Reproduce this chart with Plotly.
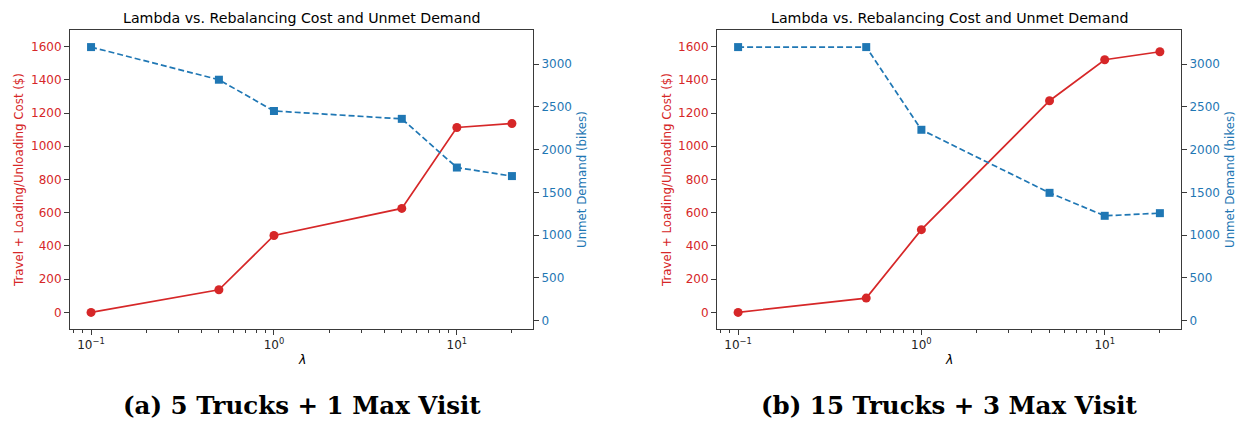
import plotly.graph_objects as go

# ---- data ----
lam = [0.1, 0.5, 1, 5, 10, 20]
cost_a = [0, 136, 463, 626, 1113, 1137]
unmet_a = [3200, 2818, 2452, 2360, 1790, 1690]
cost_b = [0, 86, 498, 1274, 1521, 1569]
unmet_b = [3200, 3200, 2232, 1494, 1225, 1256]

x_tickvals = [0.1, 1, 10]
x_ticktext = ["10<sup>−1</sup>", "10<sup>0</sup>", "10<sup>1</sup>"]
x_minor = [0.08, 0.09, 0.2, 0.3, 0.4, 0.5, 0.6, 0.7, 0.8, 0.9,
           2, 3, 4, 5, 6, 7, 8, 9, 20]
left_ticks = [0, 200, 400, 600, 800, 1000, 1200, 1400, 1600]
right_ticks = [0, 500, 1000, 1500, 2000, 2500, 3000]

title = "Lambda vs. Rebalancing Cost and Unmet Demand"
left_label = "Travel + Loading/Unloading Cost ($)"
right_label = "Unmet Demand (bikes)"
captions = ["(a) 5 Trucks + 1 Max Visit", "(b) 15 Trucks + 3 Max Visit"]

RED = "#d62728"
BLUE = "#1f77b4"
SPINE = "#3a3a3a"
W, H = 1238, 421
FONT = "DejaVu Sans"
TICK = 12

fig = go.Figure()

panels = [
    dict(cost=cost_a, unmet=unmet_a, xa="x", ya="y", ya2="y2", x0=70, x1=533),
    dict(cost=cost_b, unmet=unmet_b, xa="x2", ya="y3", ya2="y4", x0=717, x1=1181),
]

for p in panels:
    fig.add_trace(go.Scatter(
        x=lam, y=p["unmet"], xaxis=p["xa"], yaxis=p["ya2"], mode="lines+markers",
        line=dict(color=BLUE, width=1.7, dash="6px,3px"),
        marker=dict(symbol="square", size=8, color=BLUE), showlegend=False))
    fig.add_trace(go.Scatter(
        x=lam, y=p["cost"], xaxis=p["xa"], yaxis=p["ya"], mode="lines+markers",
        line=dict(color=RED, width=1.7),
        marker=dict(symbol="circle", size=9, color=RED), showlegend=False))

y_dom = [1 - 329 / H, 1 - 30 / H]

def xaxis_cfg(x0, x1, anchor):
    return dict(
        domain=[x0 / W, x1 / W], anchor=anchor, type="log",
        range=[-1.1151, 1.4162],
        tickmode="array", tickvals=x_tickvals, ticktext=x_ticktext,
        ticks="outside", ticklen=5, tickwidth=1, tickcolor=SPINE,
        tickfont=dict(family=FONT, size=TICK, color="#222"),
        minor=dict(ticks="outside", ticklen=3, tickwidth=0.8, tickcolor=SPINE,
                   tickmode="array", tickvals=x_minor, showgrid=False),
        showline=True, linecolor=SPINE, linewidth=1, mirror=True,
        showgrid=False, zeroline=False)

def yaxis_left(anchor):
    return dict(
        domain=y_dom, anchor=anchor, range=[-100, 1700],
        tickmode="array", tickvals=left_ticks,
        ticks="outside", ticklen=5, tickwidth=1, tickcolor=SPINE,
        tickfont=dict(family=FONT, size=TICK, color=RED),
        showline=True, linecolor=SPINE, linewidth=1, mirror=False,
        showgrid=False, zeroline=False)

def yaxis_right(anchor, over):
    return dict(
        anchor=anchor, overlaying=over, side="right", range=[-100, 3400],
        tickmode="array", tickvals=right_ticks,
        ticks="outside", ticklen=5, tickwidth=1, tickcolor=SPINE,
        tickfont=dict(family=FONT, size=TICK, color=BLUE),
        showline=True, linecolor=SPINE, linewidth=1,
        showgrid=False, zeroline=False)

fig.update_layout(
    width=W, height=H,
    margin=dict(l=0, r=0, t=0, b=0),
    paper_bgcolor="white", plot_bgcolor="white",
    xaxis=xaxis_cfg(70, 533, "y"),
    xaxis2=xaxis_cfg(717, 1181, "y3"),
    yaxis=yaxis_left("x"),
    yaxis2=yaxis_right("x", "y"),
    yaxis3=yaxis_left("x2"),
    yaxis4=yaxis_right("x2", "y3"),
)

annotations = []
for p, cap, ylx, yrx in zip(panels, captions, [19, 667], [582, 1230]):
    cx = (p["x0"] + p["x1"]) / 2
    annotations.append(dict(x=cx / W, y=1 - 18 / H, xref="paper", yref="paper",
                            text=title, showarrow=False, xanchor="center", yanchor="middle",
                            font=dict(family=FONT, size=14.2, color="black")))
    annotations.append(dict(x=cx / W, y=1 - 359 / H, xref="paper", yref="paper",
                            text="<i>λ</i>", showarrow=False, xanchor="center", yanchor="middle",
                            font=dict(family=FONT, size=12.5, color="black")))
    annotations.append(dict(x=ylx / W, y=1 - 180 / H, xref="paper", yref="paper",
                            text=left_label, textangle=-90, showarrow=False,
                            xanchor="center", yanchor="middle",
                            font=dict(family=FONT, size=11.8, color=RED)))
    annotations.append(dict(x=yrx / W, y=1 - 180 / H, xref="paper", yref="paper",
                            text=right_label, textangle=-90, showarrow=False,
                            xanchor="center", yanchor="middle",
                            font=dict(family=FONT, size=11.8, color=BLUE)))
    annotations.append(dict(x=(cx) / W, y=1 - 405 / H, xref="paper", yref="paper",
                            text="<b>" + cap + "</b>", showarrow=False,
                            xanchor="center", yanchor="middle",
                            font=dict(family="DejaVu Serif", size=24.5, color="black")))
fig.update_layout(annotations=annotations)

fig.write_html("out.html",
               config={"displayModeBar": False},
               post_script="document.body.style.margin='0px';"
                           "document.body.style.padding='0px';"
                           "document.body.style.overflow='hidden';")
